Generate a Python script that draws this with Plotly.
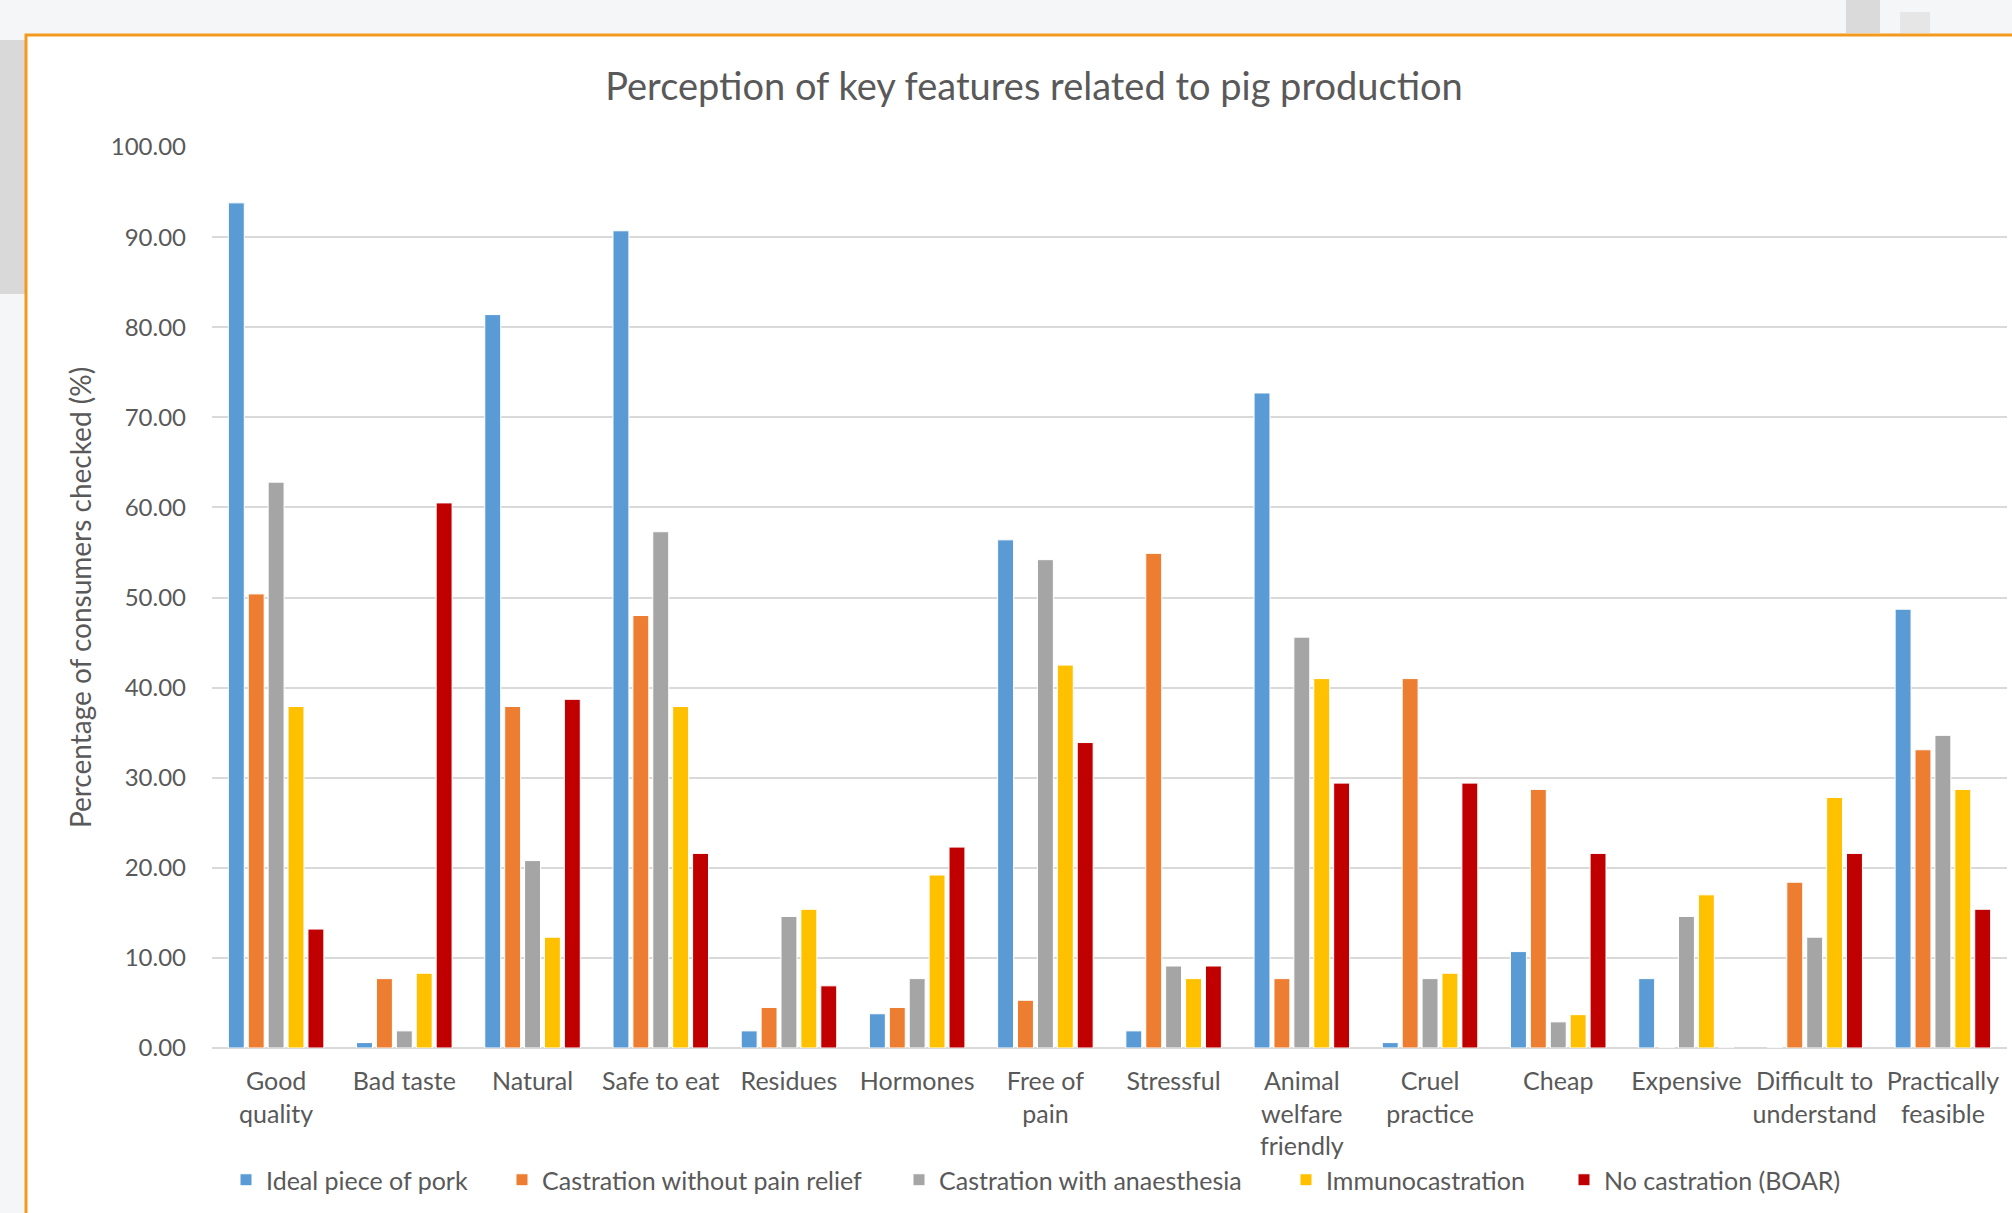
import plotly.graph_objects as go

# Features rated by consumers
categories = [
    "Good<br>quality", "Bad taste", "Natural", "Safe to eat", "Residues",
    "Hormones", "Free of<br>pain", "Stressful", "Animal<br>welfare<br>friendly",
    "Cruel<br>practice", "Cheap", "Expensive", "Difficult to<br>understand",
    "Practically<br>feasible",
]

# Percentage of consumers who checked each feature, per production method
ideal_pork = [93.8, 0.6, 81.4, 90.7, 1.9, 3.8, 56.4, 1.9, 72.7, 0.6, 10.7, 7.7, 0.0, 48.7]
castration_no_relief = [50.4, 7.7, 37.9, 48.0, 4.5, 4.5, 5.3, 54.9, 7.7, 41.0, 28.7, 0.0, 18.4, 33.1]
castration_anaesthesia = [62.8, 1.9, 20.8, 57.3, 14.6, 7.7, 54.2, 9.1, 45.6, 7.7, 2.9, 14.6, 12.3, 34.7]
immunocastration = [37.9, 8.3, 12.3, 37.9, 15.4, 19.2, 42.5, 7.7, 41.0, 8.3, 3.7, 17.0, 27.8, 28.7]
no_castration = [13.2, 60.5, 38.7, 21.6, 6.9, 22.3, 33.9, 9.1, 29.4, 29.4, 21.6, 0.0, 21.6, 15.4]

series_names = [
    "Ideal piece of pork",
    "Castration without pain relief",
    "Castration with anaesthesia",
    "Immunocastration",
    "No castration (BOAR)",
]
series_values = [ideal_pork, castration_no_relief, castration_anaesthesia,
                 immunocastration, no_castration]
series_colors = ["#5B9BD5", "#ED7D31", "#A5A5A5", "#FFC000", "#C00000"]

y_ticks = [0, 10, 20, 30, 40, 50, 60, 70, 80, 90, 100]

# Figure geometry (pixels)
W, H = 2012, 1213
PL, PR, PT, PB = 212, 2007, 147, 1048

# left edge of each legend entry's text, in pixels
legend_text_x = [266, 542, 939, 1326, 1604]
LEGEND_Y = 1180


def px_x(px):
    return (px - PL) / (PR - PL)


def px_y(py):
    return (PB - py) / (PB - PT)


TEXT = "#595959"
FONT = "Lato"

fig = go.Figure()
legend_ids = ["legend"] + [f"legend{i}" for i in range(2, len(series_names) + 1)]
for name, vals, col, lid in zip(series_names, series_values, series_colors, legend_ids):
    fig.add_trace(go.Bar(
        x=categories, y=vals, name=name, legend=lid,
        marker=dict(color=col, line=dict(color="white", width=1)),
    ))

shapes = [
    # window strip on the far left
    dict(type="rect", xref="paper", yref="paper",
         x0=px_x(-5), x1=px_x(25), y0=px_y(294), y1=px_y(40),
         fillcolor="#D9D9D9", line=dict(width=0), layer="below"),
    dict(type="rect", xref="paper", yref="paper",
         x0=px_x(1846), x1=px_x(1880), y0=px_y(33), y1=px_y(-5),
         fillcolor="#DADADA", line=dict(width=0), layer="below"),
    dict(type="rect", xref="paper", yref="paper",
         x0=px_x(1900), x1=px_x(1930), y0=px_y(33), y1=px_y(12),
         fillcolor="#E6E6E6", line=dict(width=0), layer="below"),
    # chart frame (white area with orange selection border)
    dict(type="rect", xref="paper", yref="paper",
         x0=px_x(26), x1=px_x(2040), y0=px_y(1260), y1=px_y(35),
         fillcolor="white", line=dict(color="#F39A1E", width=3), layer="below"),
]

legend_layouts = {}
for lid, tx in zip(legend_ids, legend_text_x):
    legend_layouts[lid] = dict(
        orientation="h",
        xref="container", x=(tx - 40) / W, xanchor="left",
        yref="container", y=1 - LEGEND_Y / H, yanchor="middle",
        font=dict(family=FONT, size=25, color=TEXT),
        bgcolor="rgba(0,0,0,0)",
        borderwidth=0,
        itemwidth=30,
    )

fig.update_layout(
    width=W, height=H,
    margin=dict(l=PL, r=W - PR, t=PT, b=H - PB, autoexpand=False),
    paper_bgcolor="#F5F6F7",
    plot_bgcolor="rgba(0,0,0,0)",
    font=dict(family=FONT, color=TEXT, size=25),
    barmode="group",
    bargap=0.224,
    bargroupgap=0.2,
    shapes=shapes,
    title=dict(
        text="Perception of key features related to pig production",
        x=1034 / W, xanchor="center", xref="container",
        y=1 - 87 / H, yanchor="middle", yref="container",
        font=dict(family=FONT, size=38, color=TEXT),
    ),
    showlegend=True,
    **legend_layouts,
)

fig.update_xaxes(
    showgrid=False, showline=False, ticks="",
    tickfont=dict(family=FONT, size=25, color=TEXT),
    ticklabelstandoff=16,
    fixedrange=True,
)
fig.update_yaxes(
    range=[0, 100], tickvals=y_ticks, tickformat=".2f",
    showgrid=True, gridcolor="#D9D9D9", gridwidth=2,
    zeroline=True, zerolinecolor="#D9D9D9", zerolinewidth=2,
    showline=False, ticks="",
    tickfont=dict(family=FONT, size=24, color=TEXT),
    ticklabelstandoff=25,
    title=dict(text="Percentage of consumers checked (%)",
               font=dict(family=FONT, size=28, color=TEXT), standoff=10),
    fixedrange=True,
)

fig.write_html("out.html")
